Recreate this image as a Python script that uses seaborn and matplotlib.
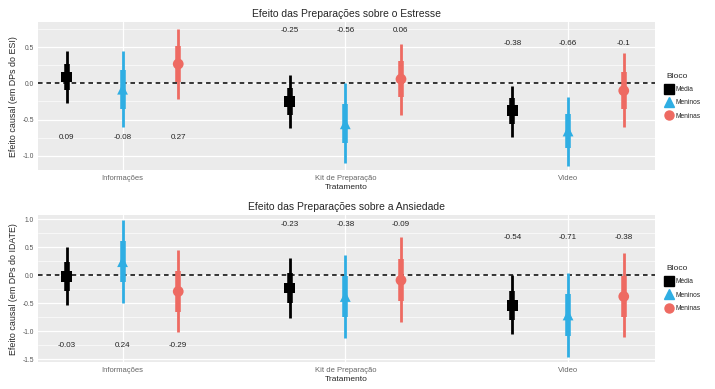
import pandas as pd
import numpy as np
import matplotlib
matplotlib.use('Agg')
import matplotlib.pyplot as plt
from matplotlib.lines import Line2D
from matplotlib.ticker import MultipleLocator
import seaborn as sns

# categories and groups
tratamentos = ["Informações", "Kit de Preparação", "Vídeo"]
blocos = ["Média", "Meninos", "Meninas"]

# Estresse (ESI): estimates, 95% limits, inner limits (per bloco, per tratamento)
esi_est = {"Média": [0.09, -0.25, -0.38], "Meninos": [-0.08, -0.56, -0.66], "Meninas": [0.27, 0.06, -0.10]}
esi_lo = {"Média": [-0.27, -0.62, -0.74], "Meninos": [-0.61, -1.10, -1.14], "Meninas": [-0.22, -0.44, -0.61]}
esi_hi = {"Média": [0.45, 0.12, -0.03], "Meninos": [0.45, 0.00, -0.19], "Meninas": [0.76, 0.55, 0.42]}
esi_lo_in = {"Média": [-0.09, -0.44, -0.56], "Meninos": [-0.35, -0.83, -0.90], "Meninas": [0.02, -0.19, -0.35]}
esi_hi_in = {"Média": [0.27, -0.06, -0.20], "Meninos": [0.19, -0.29, -0.42], "Meninas": [0.52, 0.31, 0.16]}

# Ansiedade (IDATE)
idate_est = {"Média": [-0.03, -0.23, -0.54], "Meninos": [0.24, -0.38, -0.71], "Meninas": [-0.29, -0.09, -0.38]}
idate_lo = {"Média": [-0.54, -0.76, -1.04], "Meninos": [-0.50, -1.12, -1.46], "Meninas": [-1.02, -0.84, -1.11]}
idate_hi = {"Média": [0.50, 0.30, 0.00], "Meninos": [0.98, 0.36, 0.03], "Meninas": [0.45, 0.68, 0.39]}
idate_lo_in = {"Média": [-0.29, -0.50, -0.80], "Meninos": [-0.13, -0.75, -1.08], "Meninas": [-0.66, -0.46, -0.75]}
idate_hi_in = {"Média": [0.23, 0.04, -0.28], "Meninos": [0.61, -0.01, -0.34], "Meninas": [0.08, 0.28, -0.01]}

# heights where the value labels sit (per tratamento)
esi_label_y = [-0.75, 0.74, 0.55]
idate_label_y = [-1.25, 0.91, 0.68]

cores = {"Média": "#000000", "Meninos": "#2FAEE3", "Meninas": "#EE6A62"}
marcadores = {"Média": "s", "Meninos": "^", "Meninas": "o"}


def build_df(est, lo, hi, lo_in, hi_in):
    rows = []
    for gi, b in enumerate(blocos):
        for ti, t in enumerate(tratamentos):
            rows.append({"Tratamento": t, "Bloco": b, "x": ti + (gi - 1) * 0.25,
                         "est": est[b][ti], "lo": lo[b][ti], "hi": hi[b][ti],
                         "lo_in": lo_in[b][ti], "hi_in": hi_in[b][ti], "ti": ti})
    return pd.DataFrame(rows)


sns.set_theme(style="darkgrid", rc={"axes.facecolor": "#EBEBEB", "grid.color": "white"})
plt.rcParams['font.family'] = ['Liberation Sans', 'DejaVu Sans']

fig = plt.figure(figsize=(7.15, 3.89), dpi=100)
ax1 = fig.add_axes([0.053, 0.563, 0.863, 0.380])
ax2 = fig.add_axes([0.053, 0.069, 0.863, 0.378])

paineis = [
    (ax1, build_df(esi_est, esi_lo, esi_hi, esi_lo_in, esi_hi_in), esi_label_y,
     "Efeito das Preparações sobre o Estresse", "Efeito causal (em DPs do ESI)", (-1.2, 0.85)),
    (ax2, build_df(idate_est, idate_lo, idate_hi, idate_lo_in, idate_hi_in), idate_label_y,
     "Efeito das Preparações sobre a Ansiedade", "Efeito causal (em DPs do IDATE)", (-1.55, 1.07)),
]

for ax, df, label_y, titulo, ylab, ylim in paineis:
    ax.set_axisbelow(True)
    ax.axhline(0, color="black", linestyle=(0, (3, 2.5)), linewidth=1.1, zorder=1)
    for b in blocos:
        d = df[df["Bloco"] == b]
        ax.vlines(d["x"], d["lo"], d["hi"], color=cores[b], linewidth=2.0, zorder=2)
        ax.vlines(d["x"], d["lo_in"], d["hi_in"], color=cores[b], linewidth=4.0, zorder=2)
    sns.scatterplot(data=df, x="x", y="est", hue="Bloco", style="Bloco", palette=cores,
                    markers=marcadores, s=60, edgecolor="none", legend=False, ax=ax, zorder=3)
    for _, r in df.iterrows():
        ax.text(r["x"], label_y[r["ti"]], format(round(r["est"], 2), "g"),
                ha="center", va="center", fontsize=5.8, color="#222222")
    ax.set_xlim(-0.38, 2.39)
    ax.set_ylim(*ylim)
    ax.set_xticks(range(len(tratamentos)))
    ax.set_xticklabels(tratamentos, fontsize=5.5, color="#666666")
    ax.yaxis.set_major_locator(MultipleLocator(0.5))
    ax.yaxis.set_minor_locator(MultipleLocator(0.25))
    ax.grid(which="major", color="white", linewidth=0.9)
    ax.grid(which="minor", axis="y", color="white", linewidth=0.45)
    ax.tick_params(axis="y", labelsize=4.8, labelcolor="#555555", length=2, pad=1)
    ax.tick_params(axis="x", length=2, pad=1.5)
    ax.yaxis.set_major_formatter(matplotlib.ticker.FormatStrFormatter("%.1f"))
    ax.set_title(titulo, fontsize=7.5, pad=4)
    ax.set_ylabel(ylab, fontsize=6.4, labelpad=3)
    ax.set_xlabel("Tratamento", fontsize=6, labelpad=1.5)
    for s in ax.spines.values():
        s.set_visible(False)
    handles = [Line2D([0], [0], color=cores[b], marker=marcadores[b], markersize=6.5,
                      linewidth=0, label=b) for b in blocos]
    leg = ax.legend(handles=handles, title="Bloco", loc="center left", bbox_to_anchor=(1.012, 0.5),
                    frameon=False, fontsize=4.8, title_fontsize=6, handletextpad=0.5,
                    labelspacing=0.95, handlelength=0.8, borderaxespad=0.2)
    leg._legend_box.align = "left"

fig.savefig("out.png", dpi=100)
